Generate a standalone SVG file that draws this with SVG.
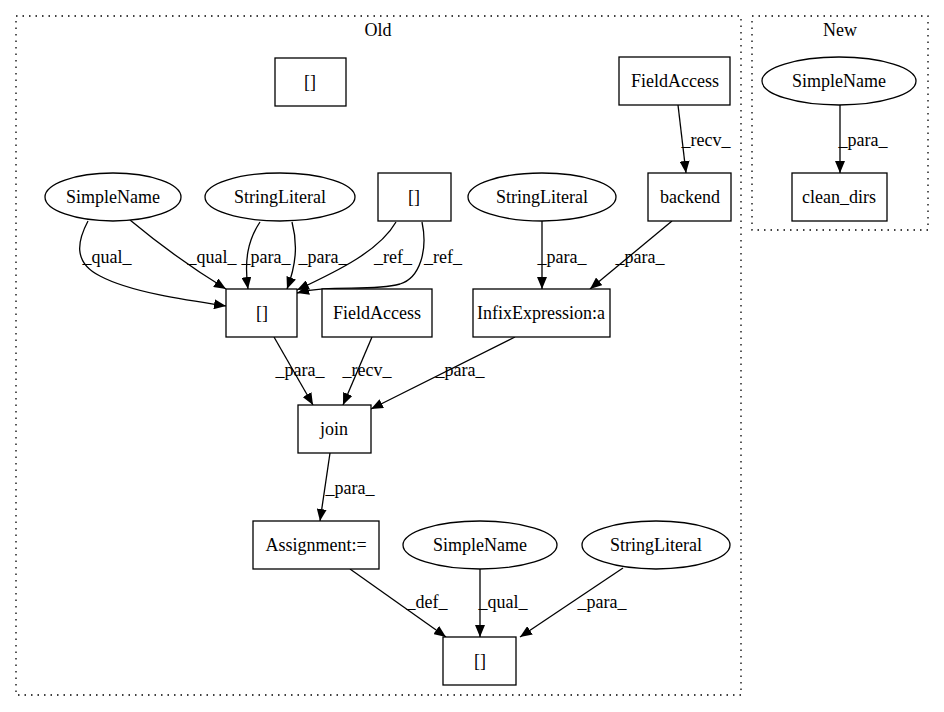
<svg xmlns="http://www.w3.org/2000/svg" width="944" height="712" viewBox="0 0 944 712">
<style>
text{font-family:"Liberation Serif","Times New Roman",serif;font-size:18px;fill:#000;text-anchor:middle}
.n{fill:#fff;stroke:#000;stroke-width:1.3}
.c{fill:none;stroke:#000;stroke-width:1.3;stroke-dasharray:1.5,5}
.e{fill:none;stroke:#000;stroke-width:1.3;marker-end:url(#a)}
</style>
<defs>
<marker id="a" viewBox="0 0 12 10" refX="12" refY="5" markerWidth="12" markerHeight="10" orient="auto" markerUnits="userSpaceOnUse">
<path d="M0,0 L12,5 L0,10 z" fill="#000"/>
</marker>
</defs>
<rect width="944" height="712" fill="#fff"/>
<g id="cluster_old"><rect class="c" x="16" y="16" width="725" height="679"/><text x="378" y="36">Old</text></g>
<g id="cluster_new"><rect class="c" x="752" y="16" width="176" height="214"/><text x="840" y="36">New</text></g>

<g id="edges">
<path class="e" d="M88,221 C78,240 72,262 100,276 C130,292 185,300 226,306"/>
<text x="107" y="263">_qual_</text>
<path class="e" d="M130,220 C160,245 195,270 226,289"/>
<text x="212" y="263">_qual_</text>
<path class="e" d="M260,222 C248,240 244,260 248,289"/>
<text x="266" y="263">_para_</text>
<path class="e" d="M292,222 C298,245 296,265 287,289"/>
<text x="323" y="263">_para_</text>
<path class="e" d="M396,222 C380,250 340,270 297,290"/>
<text x="393" y="263">_ref_</text>
<path class="e" d="M422,222 C428,250 420,278 400,284 C370,292 330,284 297,293"/>
<text x="443" y="263">_ref_</text>
<path class="e" d="M678,105 L686,173"/>
<text x="706" y="146">_recv_</text>
<path class="e" d="M542,221 L542,289"/>
<text x="562" y="263">_para_</text>
<path class="e" d="M672,221 L590,289"/>
<text x="640" y="263">_para_</text>
<path class="e" d="M274,337 L313,405"/>
<text x="300" y="376">_para_</text>
<path class="e" d="M372,337 L343,405"/>
<text x="367" y="376">_recv_</text>
<path class="e" d="M515,337 L371,409"/>
<text x="460" y="376">_para_</text>
<path class="e" d="M330,453 L320,521"/>
<text x="350" y="494">_para_</text>
<path class="e" d="M350,569 L446,637"/>
<text x="427" y="608">_def_</text>
<path class="e" d="M480,569 L480,637"/>
<text x="503" y="608">_qual_</text>
<path class="e" d="M623,568 L520,637"/>
<text x="602" y="608">_para_</text>
<path class="e" d="M840,105 L840,173"/>
<text x="863" y="146">_para_</text>
</g>

<g id="n_arr_top"><rect class="n" x="275" y="58" width="71" height="48"/><text x="310" y="88">[]</text></g>
<g id="n_fieldaccess1"><rect class="n" x="619" y="57" width="111" height="48"/><text x="675" y="87">FieldAccess</text></g>
<g id="n_simplename1"><ellipse class="n" cx="113" cy="197" rx="68" ry="24"/><text x="113" y="203">SimpleName</text></g>
<g id="n_stringliteral1"><ellipse class="n" cx="280" cy="197" rx="75" ry="24"/><text x="280" y="203">StringLiteral</text></g>
<g id="n_arr_ref"><rect class="n" x="378" y="173" width="73" height="48"/><text x="414" y="203">[]</text></g>
<g id="n_stringliteral2"><ellipse class="n" cx="542" cy="197" rx="74" ry="24"/><text x="542" y="203">StringLiteral</text></g>
<g id="n_backend"><rect class="n" x="648" y="173" width="83" height="48"/><text x="690" y="203">backend</text></g>
<g id="n_arr_mid"><rect class="n" x="226" y="289" width="71" height="48"/><text x="262" y="319">[]</text></g>
<g id="n_fieldaccess2"><rect class="n" x="322" y="289" width="110" height="48"/><text x="377" y="319">FieldAccess</text></g>
<g id="n_infix"><rect class="n" x="473" y="289" width="137" height="48"/><text x="541" y="319">InfixExpression:a</text></g>
<g id="n_join"><rect class="n" x="298" y="405" width="73" height="48"/><text x="334" y="435">join</text></g>
<g id="n_assign"><rect class="n" x="253" y="521" width="126" height="48"/><text x="316" y="551">Assignment:=</text></g>
<g id="n_simplename2"><ellipse class="n" cx="480" cy="545" rx="77" ry="24"/><text x="480" y="551">SimpleName</text></g>
<g id="n_stringliteral3"><ellipse class="n" cx="656" cy="545" rx="74" ry="24"/><text x="656" y="551">StringLiteral</text></g>
<g id="n_arr_bottom"><rect class="n" x="443" y="637" width="73" height="48"/><text x="480" y="667">[]</text></g>
<g id="n_simplename_new"><ellipse class="n" cx="839" cy="81" rx="77" ry="24"/><text x="839" y="87">SimpleName</text></g>
<g id="n_clean_dirs"><rect class="n" x="792" y="173" width="95" height="48"/><text x="839" y="203">clean_dirs</text></g>
</svg>
